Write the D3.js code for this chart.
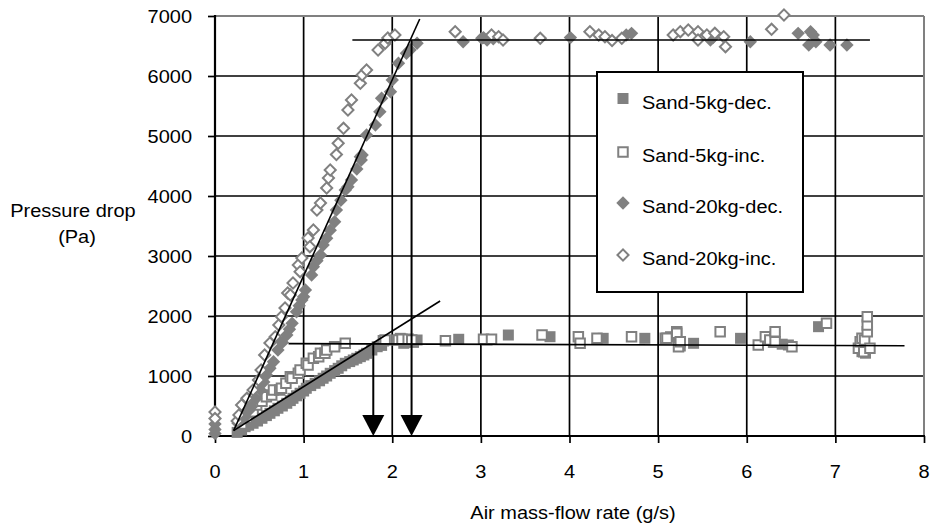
<!DOCTYPE html>
<html><head><meta charset="utf-8">
<script src="https://cdn.jsdelivr.net/npm/d3@7"></script>
<style>
body{margin:0;background:#fff;}
svg{display:block;}
text{font-family:Arial,"Liberation Sans",sans-serif;fill:#000;}
</style>
</head><body>
<svg id="c" width="930" height="526"></svg>
<script>
// ---------- data ----------
const xTicks = [0,1,2,3,4,5,6,7,8];
const yTicks = [0,1000,2000,3000,4000,5000,6000,7000];
const xTitle = "Air mass-flow rate (g/s)";
const yTitle = ["Pressure drop","(Pa)"];
const seriesNames = ["Sand-5kg-dec.","Sand-5kg-inc.","Sand-20kg-dec.","Sand-20kg-inc."];

const sand5Dec = [[0.25,60],[0.30,100],[0.34,155],[0.38,180],[0.43,212],[0.48,250],[0.53,295],[0.58,340],[0.62,378],[0.67,420],[0.71,462],[0.76,500],[0.81,545],[0.85,590],[0.88,628],[0.92,670],[0.96,712],[1.00,750],[1.03,795],[1.08,840],[1.13,878],[1.18,920],[1.22,962],[1.26,1000],[1.30,1045],[1.35,1090],[1.39,1128],[1.43,1170],[1.47,1212],[1.52,1240],[1.56,1267],[1.60,1295],[1.64,1322],[1.68,1350],[1.71,1378],[1.77,1433],[1.83,1488],[1.88,1510],[2.05,1600],[2.09,1628],[2.13,1545],[2.24,1560],[2.28,1600],[2.75,1612],[3.07,1600],[3.31,1683],[3.78,1655],[4.38,1628],[4.85,1628],[5.14,1655],[5.25,1500],[5.40,1545],[5.93,1628],[6.30,1560],[6.40,1530],[6.47,1517],[6.81,1822],[7.30,1405],[7.34,1380]];

const sand5Inc = [[0.30,200],[0.36,300],[0.43,405],[0.47,517],[0.53,580],[0.58,655],[0.64,683],[0.66,767],[0.73,767],[0.75,795],[0.80,880],[0.85,988],[0.87,962],[0.94,1045],[0.96,1100],[1.03,1212],[1.05,1183],[1.11,1295],[1.17,1322],[1.19,1378],[1.24,1378],[1.26,1433],[1.35,1488],[1.47,1545],[1.90,1588],[1.92,1600],[2.07,1600],[2.11,1612],[2.18,1612],[2.22,1600],[2.60,1588],[3.03,1612],[3.12,1612],[3.69,1683],[4.10,1655],[4.12,1545],[4.31,1628],[4.70,1655],[5.08,1628],[5.10,1628],[5.21,1738],[5.21,1712],[5.23,1488],[5.25,1572],[5.70,1738],[6.13,1517],[6.21,1655],[6.26,1600],[6.32,1738],[6.32,1572],[6.51,1488],[6.90,1878],[7.26,1462],[7.28,1572],[7.30,1628],[7.32,1405],[7.33,1600],[7.36,1738],[7.36,1850],[7.36,1989],[7.39,1462]];

const sand20Dec = [[0,200],[0,110],[0,40],[0.26,212],[0.30,280],[0.34,322],[0.38,420],[0.41,488],[0.46,620],[0.51,767],[0.55,900],[0.58,1017],[0.62,1130],[0.66,1238],[0.71,1433],[0.76,1560],[0.81,1683],[0.84,1780],[0.87,1878],[0.92,2072],[0.95,2170],[0.98,2267],[1.00,2322],[1.02,2433],[1.09,2683],[1.11,2822],[1.15,2920],[1.19,3017],[1.22,3183],[1.26,3295],[1.30,3430],[1.35,3572],[1.37,3767],[1.42,3930],[1.47,4100],[1.50,4155],[1.54,4267],[1.60,4450],[1.64,4655],[1.65,4600],[1.66,4683],[1.71,5017],[1.81,5183],[1.86,5405],[1.88,5628],[1.98,5738],[2.00,5933],[2.07,6212],[2.16,6378],[2.20,6433],[2.28,6545],[2.80,6572],[3.01,6628],[3.03,6640],[3.07,6600],[3.14,6620],[4.01,6640],[4.64,6683],[4.70,6711],[5.59,6600],[5.62,6640],[6.04,6572],[6.58,6711],[6.70,6517],[6.72,6738],[6.75,6683],[6.78,6572],[6.94,6517],[7.13,6517]];

const sand20Inc = [[0,400],[0,290],[0.25,250],[0.27,350],[0.30,517],[0.36,628],[0.43,767],[0.49,933],[0.52,1100],[0.56,1350],[0.62,1550],[0.68,1655],[0.72,1850],[0.75,1989],[0.79,2133],[0.82,2383],[0.85,2350],[0.88,2550],[0.94,2850],[0.96,2738],[0.98,2967],[1.05,3300],[1.07,3155],[1.11,3433],[1.15,3767],[1.19,3883],[1.26,4133],[1.28,4300],[1.30,4433],[1.37,4690],[1.39,4878],[1.45,5128],[1.50,5433],[1.54,5600],[1.64,5878],[1.66,6017],[1.71,6100],[1.84,6433],[1.92,6545],[1.95,6633],[2.03,6683],[2.71,6738],[3.12,6683],[3.20,6655],[3.25,6600],[3.67,6628],[4.23,6738],[4.33,6683],[4.40,6655],[4.48,6590],[4.59,6628],[5.17,6683],[5.25,6738],[5.34,6767],[5.45,6738],[5.45,6600],[5.55,6683],[5.64,6711],[5.74,6655],[5.76,6488],[6.28,6778],[6.42,7017]];

// fitted guide lines (endpoints in data units)
const steepFit = [[0.21,90],[2.31,6950]];
const shallowFit = [[0.21,90],[2.54,2250]];
const upperPlateau = [[1.55,6600],[7.39,6600]];
const lowerPlateau = [[0.83,1540],[7.78,1505]];
const arrowX = [1.786, 2.218];
const arrowTop = [1538, 6600];

// ---------- layout ----------
const svg = d3.select("#c");
const FS = 18.5, SX = 1.08;
const GRAY = "#808080";
const x = d3.scaleLinear().domain([0,8]).range([215,924]);
const y = d3.scaleLinear().domain([0,7000]).range([436,16]);

function txt(g, px, py, str, anchor){
  g.append("text").attr("transform",`translate(${px},${py}) scale(${SX},1)`)
   .attr("text-anchor",anchor).attr("font-size",FS).text(str);
}

// grid
const grid = svg.append("g");
grid.selectAll("line.h").data(yTicks.filter(d=>d>0 && d<7000)).join("line")
  .attr("x1",x(0)).attr("x2",x(8)).attr("y1",d=>y(d)).attr("y2",d=>y(d))
  .attr("stroke","#000").attr("stroke-width",1.7);
grid.selectAll("line.v").data(xTicks.filter(d=>d>0 && d<8)).join("line")
  .attr("y1",y(0)).attr("y2",y(7000)).attr("x1",d=>x(d)).attr("x2",d=>x(d))
  .attr("stroke","#000").attr("stroke-width",1.7);
// frame top/right
svg.append("line").attr("x1",x(0)).attr("x2",x(8)).attr("y1",y(7000)).attr("y2",y(7000)).attr("stroke",GRAY).attr("stroke-width",2);
svg.append("line").attr("x1",x(8)).attr("x2",x(8)).attr("y1",y(7000)).attr("y2",y(0)).attr("stroke",GRAY).attr("stroke-width",2);

// axes
const yAxis = d3.axisLeft(y).tickValues(yTicks).tickSize(7).tickFormat("");
const gy = svg.append("g").attr("transform",`translate(${x(0)},0)`).call(yAxis);
gy.select(".domain").remove();
gy.selectAll("line").attr("stroke","#000").attr("stroke-width",1.7);
const xAxis = d3.axisBottom(x).tickValues(xTicks).tickSize(7).tickFormat("");
const gx = svg.append("g").attr("transform",`translate(0,${y(0)})`).call(xAxis);
gx.select(".domain").remove();
gx.selectAll("line").attr("stroke","#000").attr("stroke-width",1.7);
svg.append("line").attr("x1",x(0)).attr("x2",x(0)).attr("y1",y(7000)-1).attr("y2",y(0)+1).attr("stroke","#000").attr("stroke-width",2.2);
svg.append("line").attr("x1",x(0)-1).attr("x2",x(8)+1).attr("y1",y(0)).attr("y2",y(0)).attr("stroke","#000").attr("stroke-width",2.2);

// tick labels
const labels = svg.append("g");
yTicks.forEach(t=>txt(labels,192,y(t)+6.5,String(t),"end"));
xTicks.forEach(t=>txt(labels,x(t),478,String(t),"middle"));
txt(labels,73,217,yTitle[0],"middle");
txt(labels,77,243,yTitle[1],"middle");
txt(labels,573,519,xTitle,"middle");

// markers
const sq = d3.symbol().type(d3.symbolSquare);
function drawSeries(data, kind){
  const g = svg.append("g");
  g.selectAll("path").data(data).join("path")
    .attr("transform",d=>`translate(${x(d[0])},${y(d[1])})` + (kind.diamond?" rotate(45)":""))
    .attr("d",sq.size(kind.size)())
    .attr("fill",kind.open?"#fff":GRAY)
    .attr("stroke",kind.open?GRAY:"none")
    .attr("stroke-width",kind.open?2:0);
}
const kinds = [
  {open:false,diamond:false,size:121},
  {open:true,diamond:false,size:90},
  {open:false,diamond:true,size:90},
  {open:true,diamond:true,size:62}
];
drawSeries(sand5Dec,kinds[0]);
drawSeries(sand5Inc,kinds[1]);
drawSeries(sand20Dec,kinds[2]);
drawSeries(sand20Inc,kinds[3]);

// guide lines
const line = d3.line().x(d=>x(d[0])).y(d=>y(d[1]));
[steepFit,shallowFit,upperPlateau,lowerPlateau].forEach(l=>{
  svg.append("path").attr("d",line(l)).attr("fill","none").attr("stroke","#000").attr("stroke-width",1.6);
});
arrowX.forEach((ax,i)=>{
  const cx = x(ax);
  svg.append("line").attr("x1",cx).attr("x2",cx).attr("y1",y(arrowTop[i])).attr("y2",y(0)-18)
    .attr("stroke","#000").attr("stroke-width",2);
  svg.append("path").attr("d",`M${cx-11},${y(0)-21}L${cx+11},${y(0)-21}L${cx},${y(0)}Z`).attr("fill","#000");
});

// legend
const lg = svg.append("g");
lg.append("rect").attr("x",597).attr("y",72).attr("width",206).attr("height",220)
  .attr("fill","#fff").attr("stroke","#000").attr("stroke-width",2);
const rowY = [98.5,152,203,255];
seriesNames.forEach((n,i)=>{
  const k = kinds[i];
  lg.append("path").attr("transform",`translate(623,${rowY[i]})`+(k.diamond?" rotate(45)":""))
    .attr("d",sq.size(k.size)())
    .attr("fill",k.open?"#fff":GRAY).attr("stroke",k.open?GRAY:"none").attr("stroke-width",k.open?2:0);
  txt(lg,642,rowY[i]+10,n,"start");
});
</script>
</body></html>
